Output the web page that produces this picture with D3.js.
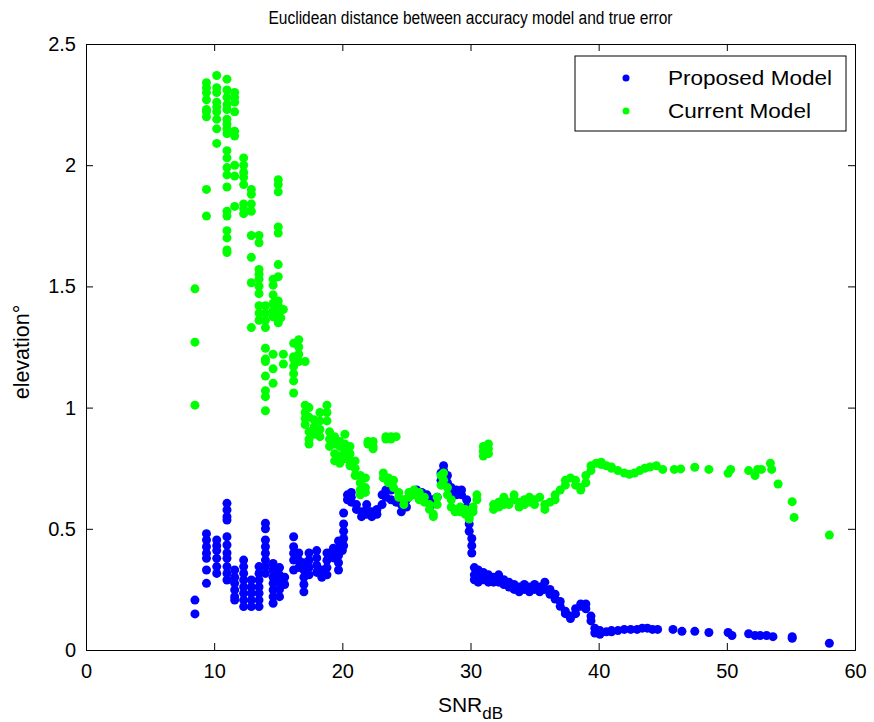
<!DOCTYPE html>
<html>
<head>
<meta charset="utf-8">
<script src="https://cdn.jsdelivr.net/npm/d3@7"></script>
<style>
  body { margin: 0; background: #fff; }
  text { font-family: "Liberation Sans", Arial, Helvetica, sans-serif; fill: #000; }
</style>
</head>
<body>
<div id="chart"></div>
<script>
// chart texts
const chartTitle = "Euclidean distance between accuracy model and true error";
const seriesNames = ["Proposed Model", "Current Model"];
const xTicks = [0, 10, 20, 30, 40, 50, 60];
const yTicks = [0, 0.5, 1, 1.5, 2, 2.5];

// Proposed Model: [SNR dB, elevation]
const proposedPoints = [
  [8.5,0.206],[8.5,0.149],
  [9.4,0.48],[9.4,0.454],[9.4,0.426],[9.4,0.399],[9.4,0.378],[9.4,0.33],[9.4,0.275],
  [10.2,0.454],[10.2,0.43],[10.2,0.41],[10.2,0.378],[10.2,0.344],[10.2,0.316],
  [11.0,0.605],[11.0,0.578],[11.0,0.55],[11.0,0.536],[11.0,0.467],[11.0,0.433],[11.0,0.40],[11.0,0.378],[11.0,0.344],[11.0,0.316],[11.0,0.289],
  [11.6,0.33],[11.6,0.30],[11.6,0.275],[11.6,0.248],[11.6,0.22],[11.6,0.206],
  [12.3,0.371],[12.3,0.344],[12.3,0.316],[12.3,0.289],[12.3,0.26],[12.3,0.234],[12.3,0.206],[12.3,0.179],
  [12.9,0.289],[12.9,0.26],[12.9,0.234],[12.9,0.206],[12.9,0.179],
  [13.5,0.344],[13.5,0.316],[13.5,0.289],[13.5,0.26],[13.5,0.234],[13.5,0.206],[13.5,0.179],
  [14.0,0.523],[14.0,0.50],[14.0,0.454],[14.0,0.426],[14.0,0.399],[14.0,0.371],[14.0,0.344],[14.0,0.316],
  [14.6,0.357],[14.6,0.33],[14.6,0.30],[14.6,0.275],[14.6,0.248],[14.6,0.22],[14.6,0.193],
  [15.1,0.34],[15.1,0.31],[15.1,0.28],[15.1,0.25],[15.1,0.22],[15.5,0.30],[15.5,0.27],
  [16.2,0.467],[16.2,0.426],[16.2,0.399],[16.2,0.371],[16.2,0.33],
  [16.6,0.40],[16.6,0.37],[16.6,0.34],
  [17.0,0.36],[17.0,0.33],[17.0,0.30],[17.0,0.27],[17.0,0.24],
  [17.4,0.40],[17.4,0.37],[17.4,0.34],[17.4,0.31],
  [18.0,0.41],[18.0,0.38],[18.0,0.35],[18.0,0.32],[18.4,0.33],[18.4,0.30],
  [18.8,0.40],[18.8,0.37],[18.8,0.34],[18.8,0.31],
  [19.3,0.42],[19.3,0.40],[19.3,0.38],
  [19.7,0.45],[19.7,0.42],[19.7,0.39],[19.7,0.36],[19.7,0.33],[20.0,0.44],[20.0,0.41],
  [20.1,0.565],[20.1,0.52],[20.1,0.49],[20.1,0.46],[20.1,0.43],
  [20.4,0.62],[20.4,0.64],[20.7,0.65],[20.7,0.63],[20.7,0.61],
  [21.1,0.60],[21.1,0.58],[21.5,0.57],[21.5,0.55],[21.9,0.60],[21.9,0.58],[21.9,0.56],
  [22.3,0.57],[22.3,0.55],[22.7,0.56],[22.7,0.58],[23.1,0.60],[23.1,0.64],
  [23.4,0.66],[23.4,0.63],[23.8,0.66],[23.8,0.62],[24.2,0.61],[24.6,0.60],[24.6,0.57],
  [25.0,0.59],[25.0,0.62],[25.4,0.64],[25.4,0.65],[25.8,0.66],[25.8,0.64],
  [26.2,0.65],[26.2,0.63],[26.6,0.64],[26.6,0.62],[27.0,0.62],[27.0,0.60],[27.4,0.63],
  [27.7,0.70],[27.7,0.73],[27.9,0.76],[27.9,0.74],[28.2,0.72],[28.2,0.69],
  [28.5,0.67],[28.5,0.65],[28.9,0.66],[28.9,0.64],[29.3,0.66],[29.3,0.64],[29.7,0.62],[29.7,0.59],
  [29.9,0.56],[29.9,0.52],[29.9,0.49],[30.1,0.46],[30.1,0.43],[30.1,0.40],
  [30.3,0.34],[30.3,0.31],[30.3,0.29],[30.6,0.33],[30.6,0.30],[30.6,0.28],
  [31.0,0.32],[31.0,0.29],[31.4,0.31],[31.4,0.28],[31.8,0.30],[31.8,0.28],
  [32.2,0.31],[32.2,0.28],[32.6,0.29],[32.6,0.27],[33.0,0.28],[33.0,0.26],
  [33.4,0.27],[33.4,0.25],[33.8,0.26],[33.8,0.24],[34.2,0.27],[34.2,0.25],
  [34.6,0.26],[34.6,0.24],[35.0,0.27],[35.0,0.25],[35.4,0.26],[35.4,0.24],
  [35.8,0.25],[35.8,0.28],[36.2,0.25],[36.2,0.23],[36.6,0.23],[36.6,0.21],
  [37.0,0.20],[37.0,0.18],[37.4,0.16],[37.4,0.15],[37.8,0.14],[37.8,0.13],
  [38.2,0.15],[38.2,0.17],[38.6,0.18],[38.6,0.19],[39.0,0.19],[39.0,0.17],
  [39.4,0.14],[39.4,0.12],[39.7,0.09],[39.7,0.07],[40.1,0.065],[40.1,0.08],
  [40.6,0.075],[41.0,0.075],[41.0,0.08],[41.5,0.08],[42.0,0.085],[42.5,0.085],
  [43.0,0.085],[43.4,0.09],[43.8,0.09],[44.2,0.085],[44.6,0.085],
  [45.8,0.085],[46.5,0.077],[47.5,0.077],[48.6,0.072],[50.1,0.072],[50.4,0.06],
  [51.7,0.067],[52.2,0.06],[52.6,0.06],[53.1,0.06],[53.6,0.055],
  [55.1,0.055],[55.1,0.048],[58.0,0.028]
];

// Current Model: [SNR dB, elevation]
const currentPoints = [
  [8.5,1.49],[8.5,1.27],[8.5,1.01],
  [9.4,2.34],[9.4,2.32],[9.4,2.30],[9.4,2.27],[9.4,2.23],[9.4,2.22],[9.4,2.20],[9.4,1.90],[9.4,1.79],
  [10.2,2.37],[10.2,2.32],[10.2,2.30],[10.2,2.26],[10.2,2.24],[10.2,2.22],[10.2,2.19],[10.2,2.15],[10.2,2.09],
  [11.0,2.355],[11.0,2.31],[11.0,2.28],[11.0,2.25],[11.0,2.23],[11.0,2.19],[11.0,2.17],[11.0,2.15],[11.0,2.13],
  [11.0,2.06],[11.0,2.03],[11.0,1.99],[11.0,1.96],[11.0,1.91],[11.0,1.81],[11.0,1.79],[11.0,1.73],[11.0,1.70],[11.0,1.65],[11.0,1.64],
  [11.6,2.30],[11.6,2.28],[11.6,2.26],[11.6,2.22],[11.6,2.14],[11.6,2.12],[11.6,2.00],[11.6,1.955],[11.6,1.83],
  [12.3,2.03],[12.3,2.00],[12.3,1.97],[12.3,1.95],[12.3,1.92],[12.3,1.84],[12.3,1.82],[12.3,1.80],
  [12.9,1.90],[12.9,1.88],[12.9,1.84],[12.9,1.81],[12.9,1.71],[12.9,1.62],[12.9,1.515],[12.9,1.33],
  [13.5,1.71],[13.5,1.68],[13.5,1.57],[13.5,1.55],[13.5,1.53],[13.5,1.50],[13.5,1.47],[13.5,1.42],[13.5,1.39],[13.5,1.36],
  [14.0,1.42],[14.0,1.39],[14.0,1.36],[14.0,1.33],[14.0,1.245],[14.0,1.20],[14.0,1.19],[14.0,1.13],[14.0,1.07],[14.0,1.045],[14.0,0.987],
  [14.6,1.53],[14.6,1.505],[14.6,1.465],[14.6,1.43],[14.6,1.40],[14.6,1.375],[14.6,1.22],[14.6,1.16],[14.6,1.10],
  [15.0,1.94],[15.0,1.92],[15.0,1.89],[15.0,1.745],[15.0,1.72],[15.0,1.59],[15.0,1.54],[15.0,1.44],[15.0,1.42],[15.0,1.395],[15.0,1.35],
  [15.2,1.40],[15.2,1.37],[15.4,1.405],[15.4,1.22],[15.4,1.18],
  [16.2,1.265],[16.2,1.21],[16.2,1.20],[16.2,1.17],[16.2,1.14],[16.2,1.11],[16.2,1.06],
  [16.6,1.28],[16.6,1.25],[16.6,1.22],[16.6,1.19],
  [17.1,1.19],[17.1,1.01],[17.1,0.98],[17.1,0.955],[17.1,0.93],
  [17.4,1.00],[17.4,0.96],[17.4,0.90],[17.4,0.87],[17.4,0.85],[17.8,0.95],[17.8,0.92],[17.8,0.89],
  [18.25,0.98],[18.25,0.945],[18.25,0.91],[18.25,0.88],[18.8,1.01],[18.8,0.98],[18.8,0.945],
  [19.0,0.90],[19.0,0.87],[19.0,0.84],[19.4,0.88],[19.4,0.85],[19.4,0.81],[19.4,0.78],
  [19.8,0.86],[19.8,0.84],[19.8,0.80],[19.8,0.77],[20.2,0.89],[20.2,0.85],[20.2,0.82],[20.2,0.79],
  [20.6,0.84],[20.6,0.81],[20.6,0.78],[20.6,0.76],[21.0,0.78],[21.0,0.75],[21.0,0.72],
  [21.4,0.72],[21.4,0.69],[21.4,0.66],[21.4,0.64],[21.8,0.71],[21.8,0.67],[21.8,0.65],
  [22.0,0.86],[22.0,0.85],[22.4,0.84],[22.4,0.83],[22.4,0.86],
  [23.4,0.87],[23.4,0.88],[23.8,0.88],[23.8,0.87],[24.2,0.88],
  [23.2,0.73],[23.2,0.71],[23.6,0.71],[23.6,0.69],[24.0,0.70],[24.0,0.67],
  [24.4,0.65],[24.4,0.63],[24.8,0.62],[24.8,0.60],[25.2,0.63],[25.2,0.65],
  [25.6,0.66],[25.6,0.64],[26.0,0.65],[26.0,0.62],[26.4,0.63],[26.4,0.61],
  [26.8,0.60],[26.8,0.58],[27.1,0.56],[27.1,0.55],[27.4,0.60],[27.4,0.63],
  [27.7,0.68],[27.7,0.72],[27.9,0.73],[27.9,0.70],[28.2,0.67],[28.2,0.64],
  [28.5,0.62],[28.5,0.59],[28.8,0.58],[28.8,0.57],[29.2,0.59],[29.2,0.57],
  [29.6,0.58],[29.6,0.56],[29.9,0.55],[29.9,0.54],[30.2,0.57],[30.2,0.59],[30.5,0.62],[30.5,0.64],
  [31.0,0.84],[31.0,0.82],[31.0,0.80],[31.4,0.85],[31.4,0.83],[31.4,0.81],
  [31.8,0.60],[31.8,0.58],[32.2,0.61],[32.2,0.59],[32.6,0.63],[32.6,0.60],
  [33.0,0.61],[33.0,0.60],[33.4,0.64],[33.4,0.62],[33.8,0.61],[33.8,0.59],
  [34.2,0.62],[34.2,0.60],[34.6,0.63],[34.6,0.61],[35.0,0.62],[35.0,0.60],[35.4,0.63],
  [35.8,0.60],[35.8,0.58],[36.2,0.61],[36.6,0.62],[36.6,0.64],[37.0,0.66],
  [37.4,0.68],[37.4,0.70],[37.8,0.71],[38.2,0.70],[38.2,0.68],[38.6,0.67],[38.6,0.66],
  [39.0,0.69],[39.0,0.72],[39.4,0.74],[39.4,0.76],[39.8,0.77],[40.2,0.775],[40.2,0.765],
  [40.6,0.76],[41.0,0.755],[41.0,0.75],[41.5,0.74],[42.0,0.73],[42.4,0.725],[42.8,0.73],
  [43.2,0.74],[43.6,0.75],[44.0,0.755],[44.5,0.76],[45.0,0.745],
  [45.9,0.745],[46.4,0.747],[47.5,0.754],[48.6,0.745],[50.1,0.729],[50.3,0.745],
  [51.7,0.74],[52.2,0.72],[52.4,0.745],[52.7,0.745],[53.4,0.77],[53.5,0.745],
  [54.0,0.685],[55.1,0.612],[55.25,0.547],[58.0,0.474]
];

const seriesColors = ["#0000ff", "#00ff00"];

const width = 874, height = 722;
const margin = { top: 44, right: 19, bottom: 72, left: 86 };
const plotW = width - margin.left - margin.right;
const plotH = height - margin.top - margin.bottom;

const svg = d3.select("#chart").append("svg")
  .attr("width", width).attr("height", height);

const x = d3.scaleLinear().domain([0, 60]).range([0, plotW]);
const y = d3.scaleLinear().domain([0, 2.5]).range([plotH, 0]);

const g = svg.append("g").attr("transform", `translate(${margin.left},${margin.top})`);

// dots: blue first, then green on top
[proposedPoints, currentPoints].forEach((pts, i) => {
  g.append("g")
    .selectAll("circle")
    .data(pts)
    .join("circle")
      .attr("cx", d => x(d[0]))
      .attr("cy", d => y(d[1]))
      .attr("r", 4.5)
      .attr("fill", seriesColors[i]);
});

// axes, MATLAB style box with inward ticks
const tickLen = 7;
const fmt = d3.format("");
g.append("g").attr("transform", `translate(0,${plotH})`)
  .call(d3.axisBottom(x).tickValues(xTicks).tickSize(-tickLen).tickPadding(14).tickFormat(fmt));
g.append("g")
  .call(d3.axisTop(x).tickValues(xTicks).tickSize(-tickLen).tickFormat(""));
g.append("g")
  .call(d3.axisLeft(y).tickValues(yTicks).tickSize(-tickLen).tickPadding(10).tickFormat(fmt));
g.append("g").attr("transform", `translate(${plotW},0)`)
  .call(d3.axisRight(y).tickValues(yTicks).tickSize(-tickLen).tickFormat(""));

g.selectAll(".domain").attr("stroke", "#000");
g.selectAll(".tick line").attr("stroke", "#000");
g.selectAll(".tick text").attr("font-size", "20px").attr("font-family", "Liberation Sans, Arial, sans-serif");

// title
svg.append("text")
  .attr("x", margin.left + plotW / 2).attr("y", 24)
  .attr("text-anchor", "middle")
  .attr("font-size", "18px")
  .attr("textLength", 404).attr("lengthAdjust", "spacingAndGlyphs")
  .text(chartTitle);

// x label with subscript
const xl = svg.append("text")
  .attr("x", margin.left + plotW / 2).attr("y", 712)
  .attr("text-anchor", "middle")
  .attr("font-size", "21px");
xl.append("tspan").text("SNR");
xl.append("tspan").attr("font-size", "17px").attr("dy", 7).text("dB");

// y label
svg.append("text")
  .attr("transform", `translate(29,352) rotate(-90)`)
  .attr("text-anchor", "middle")
  .attr("font-size", "21.5px")
  .text("elevation\u00b0");

// legend
const legend = svg.append("g").attr("transform", "translate(575,56)");
legend.append("rect")
  .attr("width", 271).attr("height", 75)
  .attr("fill", "#fff").attr("stroke", "#000");
const legendWidths = [164, 143];
seriesNames.forEach((name, i) => {
  legend.append("circle")
    .attr("cx", 51).attr("cy", 22 + i * 33)
    .attr("r", 3.5).attr("fill", seriesColors[i]);
  legend.append("text")
    .attr("x", 93).attr("y", 29 + i * 33)
    .attr("font-size", "21px")
    .attr("textLength", legendWidths[i]).attr("lengthAdjust", "spacingAndGlyphs")
    .text(name);
});
</script>
</body>
</html>
